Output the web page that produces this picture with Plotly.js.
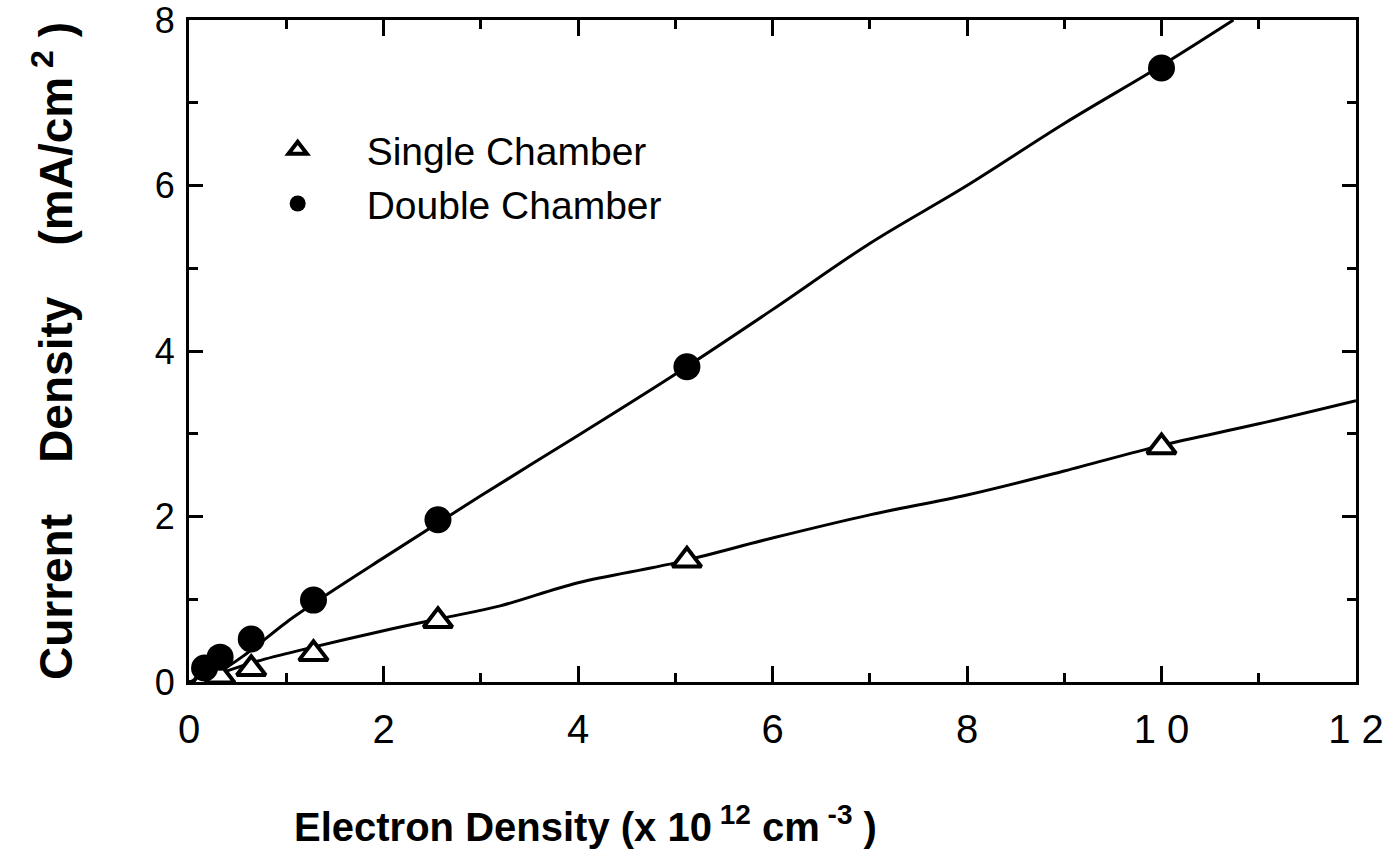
<!DOCTYPE html>
<html>
<head>
<meta charset="utf-8">
<script src="https://cdn.plot.ly/plotly-3.0.1.min.js"></script>
<style>html,body{margin:0;padding:0;background:#fff;}#chart{width:1390px;height:861px;}</style>
</head>
<body>
<div id="chart"></div>
<script>
// Measured points (electron density x1e12 cm^-3, current density mA/cm^2)
var densityPoints = [0.16, 0.32, 0.64, 1.28, 2.56, 5.12, 10];
var singleChamber = [0.03, 0.07, 0.16, 0.34, 0.74, 1.47, 2.84];
var doubleChamber = [0.17, 0.30, 0.52, 0.99, 1.96, 3.81, 7.42];

// Fitted curves
var singleFitX = [0, 0.3, 0.7, 1.2, 2, 2.6, 3.2, 4, 5, 6, 7, 8, 9, 10, 11, 12];
var singleFitY = [0, 0.10, 0.25, 0.40, 0.62, 0.77, 0.92, 1.20, 1.44, 1.74, 2.02, 2.26, 2.55, 2.86, 3.12, 3.40];
var doubleFitX = [0, 0.3, 0.6, 1, 1.5, 2, 3, 4, 5, 6, 7, 8, 9, 10, 10.74];
var doubleFitY = [0, 0.12, 0.35, 0.72, 1.12, 1.50, 2.25, 2.98, 3.72, 4.50, 5.30, 6.00, 6.75, 7.45, 8.0];

var xTickVals = [0, 2, 4, 6, 8, 10, 12];
var xTickText = ["0", "2", "4", "6", "8", "1 0", "1 2"];
var yTickVals = [0, 2, 4, 6, 8];
var yTickText = ["0", "2", "4", "6", "8"];

var sp = '\u00a0\u00a0\u00a0\u00a0';
var xTitle = '<b>Electron Density (x 10<sup> 12</sup> cm<sup> -3</sup> )</b>';
var yTitle = '<b>Current' + sp + 'Density' + sp + '(mA/cm<sup>\u00a02</sup>\u00a0)</b>';

var traces = [
  {x: singleFitX, y: singleFitY, mode: 'lines', line: {color: '#000', width: 3, shape: 'spline'}, showlegend: false, hoverinfo: 'skip'},
  {x: doubleFitX, y: doubleFitY, mode: 'lines', line: {color: '#000', width: 3, shape: 'spline'}, showlegend: false, hoverinfo: 'skip'},
  {x: densityPoints, y: singleChamber, mode: 'markers', name: 'Single Chamber',
   marker: {symbol: 'triangle-up', size: 25, color: '#fff', line: {color: '#000', width: 4}}},
  {x: densityPoints, y: doubleChamber, mode: 'markers', name: 'Double Chamber',
   marker: {symbol: 'circle', size: 27, color: '#000', line: {color: '#000', width: 0}}}
];

var layout = {
  width: 1390, height: 861,
  margin: {l: 189, r: 34, t: 20, b: 179},
  paper_bgcolor: '#fff', plot_bgcolor: '#fff',
  showlegend: true,
  legend: {x: 0.034, y: 0.852, xanchor: 'left', yanchor: 'top', bgcolor: 'rgba(0,0,0,0)',
           font: {family: 'Liberation Sans, Arial, sans-serif', size: 39, color: '#000'},
           itemwidth: 128, traceorder: 'normal'},
  xaxis: {
    range: [0, 12], showgrid: false, zeroline: false,
    showline: true, linecolor: '#000', linewidth: 3, mirror: 'ticks',
    ticks: 'inside', ticklen: 16, tickwidth: 3, tickcolor: '#000',
    tickvals: xTickVals, ticktext: xTickText,
    tickfont: {family: 'Liberation Sans, Arial, sans-serif', size: 40, color: '#000'},
    ticklabelstandoff: 10, ticklabeloverflow: 'allow',
    minor: {dtick: 1, tick0: 0, ticks: 'inside', ticklen: 9, tickwidth: 3, tickcolor: '#000', showgrid: false}
  },
  yaxis: {
    range: [0, 8], showgrid: false, zeroline: false,
    showline: true, linecolor: '#000', linewidth: 3, mirror: 'ticks',
    ticks: 'inside', ticklen: 14, tickwidth: 3, tickcolor: '#000',
    tickvals: yTickVals, ticktext: yTickText,
    tickfont: {family: 'Liberation Sans, Arial, sans-serif', size: 36, color: '#000'},
    ticklabelstandoff: 4, ticklabeloverflow: 'allow',
    minor: {dtick: 1, tick0: 0, ticks: 'inside', ticklen: 9, tickwidth: 3, tickcolor: '#000', showgrid: false},
    title: {text: yTitle,
            font: {family: 'Liberation Sans, Arial, sans-serif', size: 46, color: '#000'},
            standoff: 68}
  },
  annotations: [
    {text: xTitle, xref: 'paper', yref: 'paper', x: 0.34, y: -0.215, xanchor: 'center', yanchor: 'middle',
     showarrow: false, font: {family: 'Liberation Sans, Arial, sans-serif', size: 40, color: '#000'}}
  ]
};

Plotly.newPlot('chart', traces, layout, {displayModeBar: false, staticPlot: true});
</script>
</body>
</html>
